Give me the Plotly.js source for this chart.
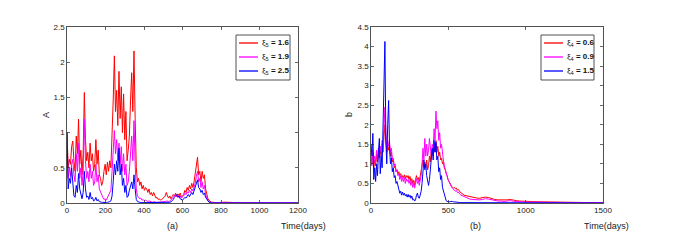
<!DOCTYPE html>
<html><head><meta charset="utf-8">
<script src="https://cdn.plot.ly/plotly-3.0.1.min.js"></script>
<style>html,body{margin:0;padding:0;background:#fff}#c{width:675px;height:246px}</style>
</head><body><div id="c"></div>
<script>
// ---------- Panel (a): A vs time ----------
const daysA = [0,6,12,18,24,30,36,42,48,54,60,66,72,78,84,90,96,102,108,114,120,126,132,138,144,150,156,162,168,174,180,186,192,198,204,210,216,222,228,234,240,246,252,258,264,270,276,282,288,294,300,306,312,318,324,330,336,342,348,354,360,366,372,378,384,390,396,402,408,414,420,426,432,438,444,450,456,462,468,474,480,486,492,498,504,510,516,522,528,534,540,546,552,558,564,570,576,582,588,594,600,606,612,618,624,630,636,642,648,654,660,666,672,678,684,690,696,702,708,714,720,726,732,738,744,750,756,780,820,850,900,950,1000,1050,1100,1150,1200];
const A_xi16 = [1.0,0.5,0.62,0.55,0.8,0.88,0.6,0.45,0.95,0.7,
 1.19,0.55,0.75,0.4,0.7,1.57,0.9,0.6,0.72,0.5,
 0.85,0.6,0.7,0.45,0.55,0.9,0.55,0.75,0.4,0.35,
 0.25,0.3,0.45,0.55,0.4,0.58,0.45,0.6,0.5,0.9,
 1.45,2.09,1.3,1.6,1.1,1.87,1.2,1.65,1.0,1.55,
 0.9,1.3,0.6,0.75,0.95,1.45,1.85,1.3,2.16,1.2,
 0.5,0.3,0.35,0.25,0.3,0.2,0.25,0.18,0.22,0.2,
 0.15,0.2,0.12,0.15,0.1,0.15,0.12,0.07,0.08,0.05,
 0.06,0.04,0.05,0.06,0.08,0.1,0.15,0.1,0.07,0.1,
 0.06,0.09,0.12,0.1,0.14,0.09,0.13,0.1,0.14,0.08,
 0.1,0.12,0.18,0.15,0.22,0.18,0.25,0.2,0.28,0.22,
 0.3,0.4,0.5,0.65,0.4,0.45,0.3,0.45,0.35,0.4,
 0.2,0.1,0.06,0.04,0.02,0.01,0.01,
 0.005,0.012,0.006,0.003,0.004,0.008,0.002,0.001,0.001,0.001];
const A_xi19 = [1.0,0.35,0.5,0.38,0.55,0.62,0.4,0.3,0.7,0.45,
 0.85,0.35,0.5,0.25,0.45,1.19,0.6,0.35,0.45,0.3,
 0.55,0.35,0.45,0.25,0.3,0.55,0.3,0.4,0.2,0.15,
 0.1,0.08,0.05,0.06,0.04,0.08,0.1,0.15,0.18,0.45,
 0.8,1.03,0.7,0.9,0.6,0.85,0.55,0.8,0.45,0.7,
 0.4,0.55,0.25,0.3,0.45,0.7,0.95,0.6,1.17,0.55,
 0.2,0.1,0.08,0.06,0.07,0.04,0.05,0.03,0.04,0.03,
 0.02,0.03,0.02,0.02,0.01,0.02,0.01,0.01,0.01,0.01,
 0.01,0.01,0.01,0.02,0.01,0.02,0.03,0.02,0.02,0.03,
 0.04,0.06,0.08,0.1,0.12,0.09,0.11,0.08,0.1,0.07,
 0.08,0.1,0.14,0.12,0.16,0.14,0.18,0.15,0.2,0.17,
 0.22,0.28,0.38,0.45,0.3,0.35,0.22,0.3,0.2,0.25,
 0.12,0.06,0.03,0.02,0.01,0.005,0.003,
 0.002,0.003,0.002,0.001,0.002,0.004,0.001,0.001,0.001,0.001];
const A_xi25 = [1.0,0.2,0.35,0.28,0.5,0.3,0.1,0.08,0.25,0.15,
 0.42,0.2,0.12,0.06,0.15,0.45,0.2,0.08,0.1,0.05,
 0.15,0.06,0.08,0.03,0.04,0.08,0.03,0.05,0.02,0.01,
 0.01,0.01,0.005,0.01,0.005,0.01,0.01,0.02,0.03,0.1,
 0.3,0.55,0.4,0.6,0.45,0.78,0.4,0.55,0.25,0.35,
 0.15,0.25,0.08,0.1,0.18,0.25,0.3,0.2,0.4,0.2,
 0.05,0.02,0.01,0.01,0.005,0.005,0.003,0.003,0.002,0.002,
 0.002,0.002,0.001,0.001,0.001,0.001,0.001,0.001,0.001,0.001,
 0.001,0.001,0.001,0.002,0.002,0.003,0.005,0.005,0.008,0.01,
 0.015,0.03,0.05,0.08,0.1,0.12,0.08,0.1,0.06,0.05,
 0.04,0.06,0.08,0.07,0.1,0.12,0.09,0.12,0.15,0.12,
 0.18,0.22,0.28,0.33,0.22,0.2,0.15,0.18,0.12,0.14,
 0.08,0.05,0.02,0.01,0.005,0.002,0.001,
 0.001,0.001,0.001,0.001,0.001,0.001,0.001,0.001,0.001,0.001];

// ---------- Panel (b): b vs time ----------
const daysB = [0,6,12,18,24,30,36,42,48,54,60,66,72,78,84,90,96,102,108,114,120,126,132,138,144,150,156,162,168,174,180,186,192,198,204,210,216,222,228,234,240,246,252,258,264,270,276,282,288,294,300,306,312,318,324,330,336,342,348,354,360,366,372,378,384,390,396,402,408,414,420,426,432,438,444,450,456,462,468,474,480,486,492,498,504,510,516,522,528,534,540,546,552,558,564,570,576,582,588,594,600,620,640,660,680,700,720,740,760,780,800,820,840,860,880,900,920,940,960,980,1000,1050,1100,1150,1200,1250,1300,1350,1400,1450,1500];
const b_xi06 = [1.2,1.0,1.3,0.9,1.1,0.95,1.25,1.05,1.3,1.15,
 1.35,1.2,1.5,1.3,1.7,2.0,1.6,1.3,1.5,1.35,
 1.45,1.2,1.3,1.05,1.1,0.9,0.95,0.8,0.85,0.75,
 0.8,0.7,0.75,0.65,0.7,0.65,0.72,0.62,0.7,0.65,
 0.7,0.6,0.68,0.55,0.62,0.5,0.58,0.45,0.6,0.7,
 0.6,0.65,0.55,0.7,0.75,0.9,1.1,0.95,1.05,0.9,
 1.1,0.85,0.95,1.2,1.05,1.35,1.3,1.2,1.45,1.3,
 1.6,1.3,1.45,1.2,1.3,1.1,1.15,1.0,1.05,0.9,
 0.85,0.75,0.7,0.6,0.55,0.5,0.45,0.42,0.4,0.38,
 0.4,0.36,0.38,0.33,0.35,0.3,0.28,0.26,0.25,0.23,
 0.2,
 0.18,0.16,0.14,0.13,0.12,0.13,0.15,0.14,0.11,0.09,0.08,0.08,0.07,0.08,0.09,0.07,0.06,0.05,0.05,0.04,
 0.035,0.03,0.025,0.02,0.015,0.012,0.01,0.008,0.006,0.005];
const b_xi09 = [1.2,0.95,1.35,1.0,1.2,1.05,1.35,1.1,1.4,1.25,
 1.45,1.3,1.6,1.4,1.9,2.45,1.8,1.4,1.6,1.45,
 1.55,1.3,1.4,1.1,1.15,0.95,1.0,0.8,0.85,0.7,
 0.75,0.6,0.7,0.55,0.65,0.55,0.65,0.5,0.62,0.55,
 0.6,0.5,0.58,0.45,0.55,0.4,0.5,0.38,0.52,0.62,
 0.5,0.58,0.45,0.6,0.7,1.0,1.4,1.1,1.65,1.2,
 1.5,1.2,1.35,1.65,1.3,1.2,1.5,1.4,1.9,1.6,
 2.35,1.9,2.1,1.6,1.8,1.4,1.5,1.2,1.1,0.95,
 0.85,0.75,0.7,0.6,0.55,0.48,0.45,0.4,0.38,0.36,
 0.32,0.3,0.32,0.27,0.28,0.24,0.22,0.2,0.19,0.17,
 0.15,
 0.12,0.1,0.09,0.08,0.08,0.09,0.11,0.1,0.08,0.06,0.05,0.05,0.04,0.05,0.06,0.045,0.035,0.03,0.03,0.025,
 0.02,0.018,0.015,0.012,0.01,0.008,0.006,0.005,0.004,0.003];
const b_xi15 = [1.5,1.2,1.78,0.6,0.9,0.55,1.0,0.7,1.3,1.65,
 0.75,1.2,0.9,2.3,3.55,4.13,1.6,1.0,2.0,2.62,
 1.4,1.0,1.15,0.8,0.9,0.65,0.7,0.5,0.55,0.4,
 0.35,0.25,0.3,0.2,0.28,0.2,0.25,0.18,0.22,0.15,
 0.22,0.15,0.2,0.12,0.18,0.08,0.1,0.05,0.08,0.2,
 0.25,0.15,0.12,0.2,0.3,0.5,0.8,1.1,0.85,1.0,
 0.7,0.5,0.45,0.6,0.9,1.2,1.4,1.1,1.6,1.3,
 1.55,1.1,1.2,0.8,0.9,0.6,0.7,0.4,0.3,0.2,
 0.12,0.06,0.04,0.03,0.02,0.03,0.04,0.05,0.04,0.03,
 0.03,0.025,0.02,0.02,0.015,0.015,0.01,0.01,0.01,0.01,
 0.01,
 0.008,0.007,0.006,0.005,0.005,0.004,0.004,0.003,0.003,0.003,0.002,0.002,0.002,0.002,0.002,0.001,0.001,0.001,0.001,0.001,
 0.001,0.001,0.001,0.001,0.001,0.001,0.001,0.001,0.001,0.001];

const labelsA = ['ξ<sub>5</sub> <b>= 1.6</b>','ξ<sub>5</sub> <b>= 1.9</b>','ξ<sub>5</sub> <b>= 2.5</b>'];
const labelsB = ['ξ<sub>4</sub> <b>= 0.6</b>','ξ<sub>4</sub> <b>= 0.9</b>','ξ<sub>4</sub> <b>= 1.5</b>'];
const colors = ['#ff0000','#ff00ff','#0000ff'];

const seriesA = [A_xi16, A_xi19, A_xi25];
const seriesB = [b_xi06, b_xi09, b_xi15];
const traces = [];
seriesA.forEach((s,i)=>traces.push({x:daysA,y:s,type:'scatter',mode:'lines',name:labelsA[i],
  line:{color:colors[i],width:1},xaxis:'x',yaxis:'y',showlegend:false}));
seriesB.forEach((s,i)=>traces.push({x:daysB,y:s,type:'scatter',mode:'lines',name:labelsB[i],
  line:{color:colors[i],width:1},xaxis:'x2',yaxis:'y2',showlegend:false}));

const W=675,H=246;
const FAM = 'Liberation Sans, Arial, sans-serif';
const fnt = {family:FAM, size:8, color:'#222'};
const axBase = {showline:true, mirror:'ticks', ticks:'inside', ticklen:3, tickwidth:0.7,
  linecolor:'#262626', linewidth:0.8, tickcolor:'#262626', showgrid:false, zeroline:false,
  tickfont:fnt};

// legend boxes drawn as layout shapes + annotations (pixel placement)
const shapes = [], annotations = [];
function legendBox(x0, x1, y0, y1, labels){
  shapes.push({type:'rect', xref:'paper', yref:'paper', x0:x0/W, x1:x1/W, y0:1-y1/H, y1:1-y0/H,
    line:{color:'#262626', width:0.8}, fillcolor:'#ffffff', layer:'above'});
  labels.forEach((lab,i)=>{
    const yy = y0 + 8 + 14*i;
    shapes.push({type:'line', xref:'paper', yref:'paper', x0:(x0+3)/W, x1:(x0+22)/W, y0:1-yy/H, y1:1-yy/H,
      line:{color:colors[i], width:1.3}, layer:'above'});
    annotations.push({text:lab, xref:'paper', yref:'paper', x:(x0+24)/W, y:1-yy/H, xanchor:'left', yanchor:'middle',
      showarrow:false, font:{family:FAM, size:8, color:'#111'}});
  });
}
legendBox(236, 290, 35, 80, labelsA);
legendBox(541, 594, 35, 80, labelsB);

const f9 = {family:FAM, size:9, color:'#222'};
[['(a)',172,226,0],['Time(days)',303,226,0],['A',46,115,-90],
 ['(b)',476,226,0],['Time(days)',606,226,0],['b',349,115,-90]].forEach(a=>{
  annotations.push({text:a[0], x:a[1]/W, y:1-a[2]/H, xref:'paper', yref:'paper', xanchor:'center', yanchor:'middle',
    showarrow:false, textangle:a[3], font:f9});
});

const layout = {
  width:W, height:H, margin:{l:0,r:0,t:0,b:0}, paper_bgcolor:'#fff', plot_bgcolor:'#fff',
  showlegend:false,
  xaxis:Object.assign({}, axBase, {domain:[67/W,298/W], range:[0,1200], tickvals:[0,200,400,600,800,1000,1200], anchor:'y'}),
  yaxis:Object.assign({}, axBase, {domain:[1-203/H,1-27/H], range:[0,2.5], tickvals:[0,0.5,1,1.5,2,2.5], anchor:'x'}),
  xaxis2:Object.assign({}, axBase, {domain:[371/W,603/W], range:[0,1500], tickvals:[0,500,1000,1500], anchor:'y2'}),
  yaxis2:Object.assign({}, axBase, {domain:[1-203/H,1-27/H], range:[0,4.5], tickvals:[0,0.5,1,1.5,2,2.5,3,3.5,4,4.5], anchor:'x2'}),
  shapes:shapes, annotations:annotations
};
Plotly.newPlot('c', traces, layout, {displayModeBar:false, staticPlot:true});
</script></body></html>
